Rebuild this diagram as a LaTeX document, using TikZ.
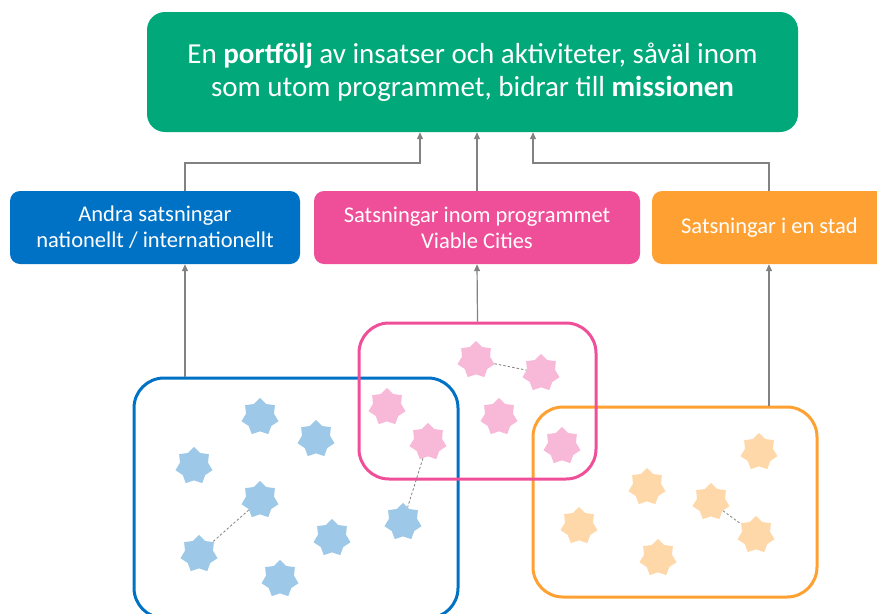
\documentclass[tikz,border=0pt]{standalone}
\usepackage{fontspec}
\setmainfont{Carlito}
\usetikzlibrary{arrows.meta,shapes.geometric,positioning}

\definecolor{missiongreen}{RGB}{0,168,122}
\definecolor{otherblue}{RGB}{0,114,198}
\definecolor{progpink}{RGB}{239,79,152}
\definecolor{cityorange}{RGB}{255,161,50}
\definecolor{bluestarfill}{RGB}{157,200,232}
\definecolor{pinkstarfill}{RGB}{248,184,216}
\definecolor{orangestarfill}{RGB}{255,216,170}
\definecolor{linkgray}{RGB}{130,130,130}

\tikzset{
  topbox/.style={rectangle, rounded corners=18pt, fill=missiongreen, text=white,
    minimum width=651pt, minimum height=120pt, align=center,
    font=\fontsize{29}{33}\selectfont},
  levelbox/.style={rectangle, rounded corners=10pt, text=white,
    minimum height=73pt, align=center, font=\fontsize{22.5}{26}\selectfont},
  region/.style={rectangle, rounded corners=30pt, draw, line width=3pt},
  istar/.style={star, star points=7, star point ratio=1.32, minimum size=38pt,
    inner sep=0pt, draw=none},
  link/.style={draw=linkgray, line width=1.2pt, -{Triangle[length=7pt,width=6pt]}},
  dotlink/.style={draw=linkgray, line width=0.8pt, dash pattern=on 2.5pt off 2pt}
}

\begin{document}
\begin{tikzpicture}[x=1pt,y=-1pt]
\clip (0,0) rectangle (877,613);

% top
\node[topbox] (mission) at (472.5,72)
  {En \textbf{portfölj} av insatser och aktiviteter, såväl inom\\som utom programmet, bidrar till \textbf{missionen}};

% middle row
\node[levelbox, fill=otherblue, minimum width=290pt] (bluebox) at (155,227.5)
  {Andra satsningar\\nationellt / internationellt};
\node[levelbox, fill=progpink, minimum width=326pt] (pinkbox) at (477,227.5)
  {Satsningar inom programmet\\Viable Cities};
\node[levelbox, fill=cityorange, minimum width=235pt] (orangebox) at (769.5,227.5)
  {Satsningar i en stad};

% regions
\node[region, draw=otherblue, minimum width=324pt, minimum height=240pt] (blueregion) at (296,498) {};
\node[region, draw=cityorange, minimum width=284pt, minimum height=190pt] (orangeregion) at (675,502) {};
\node[region, draw=progpink, minimum width=237pt, minimum height=156pt] (pinkregion) at (477.5,401) {};

% stars
\foreach \n/\x/\y in {1/260/417, 2/316/439, 3/194/466, 4/260/500,
                      5/199/554, 6/332/538, 7/280/579, 8/403/522}
  \node[istar, fill=bluestarfill] (b\n) at (\x,\y) {};
\foreach \n/\x/\y in {1/476/360, 2/541/373, 3/387/407, 4/499/417,
                      5/428/442, 6/562/446}
  \node[istar, fill=pinkstarfill] (p\n) at (\x,\y) {};
\foreach \n/\x/\y in {1/759/452, 2/647/487, 3/711/502, 4/579/526,
                      5/756/535, 6/658/558}
  \node[istar, fill=orangestarfill] (o\n) at (\x,\y) {};

\draw[dotlink] (b4) -- (b5);
\draw[dotlink] (p5) -- (b8);
\draw[dotlink] (p1) -- (p2);
\draw[dotlink] (o3) -- (o5);

% arrows
\coordinate (bluex) at (185,0);
\coordinate (orangex) at (769,0);
\coordinate (leftin) at (420,163);
\coordinate (rightin) at (533,163);

\draw[link] (bluebox.north -| bluex) |- (leftin) -- (mission.south -| leftin);
\draw[link] (pinkbox.north) -- (mission.south -| pinkbox.north);
\draw[link] (orangebox.north -| orangex) |- (rightin) -- (mission.south -| rightin);

\draw[link] (blueregion.north -| bluex) -- (bluebox.south -| bluex);
\draw[link] (pinkregion.north) -- (pinkbox.south);
\draw[link] (orangeregion.north -| orangex) -- (orangebox.south -| orangex);
\end{tikzpicture}
\end{document}
